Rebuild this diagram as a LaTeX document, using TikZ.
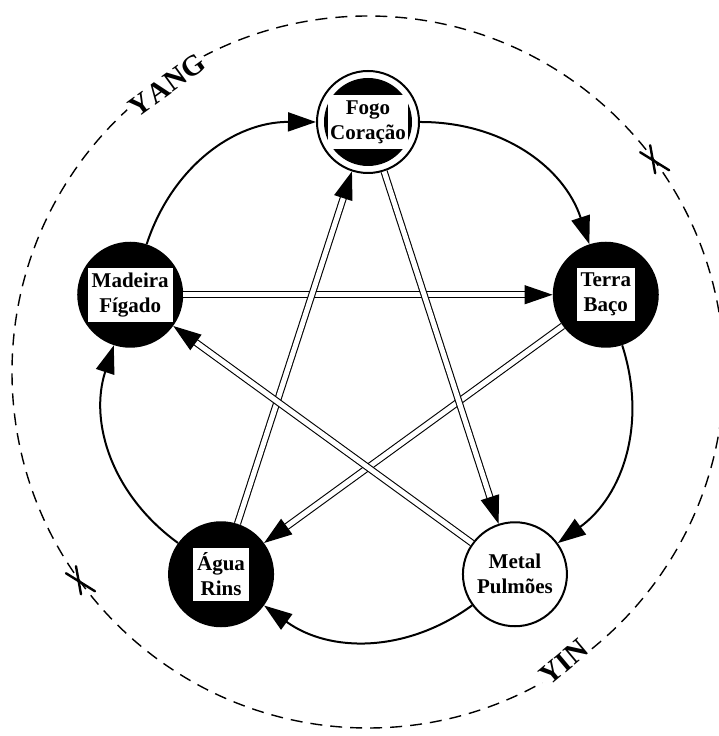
\documentclass[tikz,border=0pt]{standalone}
\usepackage{fontspec}
\setmainfont{Liberation Serif}
\usetikzlibrary{arrows.meta}
\begin{document}
\begin{tikzpicture}[x=1pt,y=1pt,
  disk/.style={circle, fill=black, minimum size=106pt, inner sep=0pt},
  ring/.style={circle, draw=black, fill=white, line width=2pt, minimum size=104pt, inner sep=0pt},
  lbl/.style={fill=white, font=\bfseries\fontsize{21}{25}\selectfont, align=center, inner xsep=4pt, inner ysep=5pt},
  gen/.style={line width=2pt, -{Triangle[length=28pt,width=19pt]}},
  ctrl/.style={line width=1.1pt, double distance=5pt, -{Triangle[length=28pt,width=19pt]}},
  orbit/.style={line width=1.4pt, dash pattern=on 12pt off 8pt},
  big/.style={font=\bfseries\fontsize{29}{33}\selectfont, fill=white, inner sep=3pt},
  xmark/.style={line width=2.4pt, line cap=round}
]
\useasboundingbox (0,0) rectangle (718,736);
\coordinate (c) at (368,364);
\begin{scope}[shift={(c)}]
\draw[orbit] (0,0) circle[radius=356];
\node[big, rotate=36] (yang) at (125:350) {Y\kern2ptANG};
\node[big, rotate=40] (yin) at (-56:350) {YIN};
\begin{scope}[shift={(36.5:356)}]
\draw[xmark] (-14,8) -- (15,-10);
\draw[xmark] (-4,15) -- (1,-13);
\end{scope}
\begin{scope}[shift={(216:356)}]
\draw[xmark] (-14,8) -- (15,-10);
\draw[xmark] (-4,15) -- (1,-13);
\end{scope}

\node[ring, minimum size=102pt] (fogo) at (90:250) {};
\node[disk, minimum size=88pt] (fogoin) at (fogo) {};
\node[lbl, inner xsep=2pt] (fogoT) at (fogo) {Fogo\\Coração};
\node[disk] (mad) at (162:250) {};
\node[lbl] (madT) at (mad) {Madeira\\Fígado};
\node[disk] (terra) at (18:250) {};
\node[lbl] (terraT) at (terra) {Terra\\Baço};
\node[disk] (agua) at (234:250) {};
\node[lbl] (aguaT) at (agua) {Água\\Rins};
\node[ring] (metal) at (306:250) {};
\node[font=\bfseries\fontsize{21}{25}\selectfont, align=center] (metalT) at (metal) {Metal\\Pulmões};

\draw[gen] (mad) to[bend left=36] (fogo);
\draw[gen] (fogo) to[bend left=36] (terra);
\draw[gen] (terra) to[bend left=36] (metal);
\draw[gen] (metal) to[bend left=36] (agua);
\draw[gen] (agua) to[bend left=36] (mad);

\draw[ctrl] (mad) -- (terra);
\draw[ctrl] (terra) -- (agua);
\draw[ctrl] (agua) -- (fogo);
\draw[ctrl] (fogo) -- (metal);
\draw[ctrl] (metal) -- (mad);
\end{scope}
\end{tikzpicture}
\end{document}
